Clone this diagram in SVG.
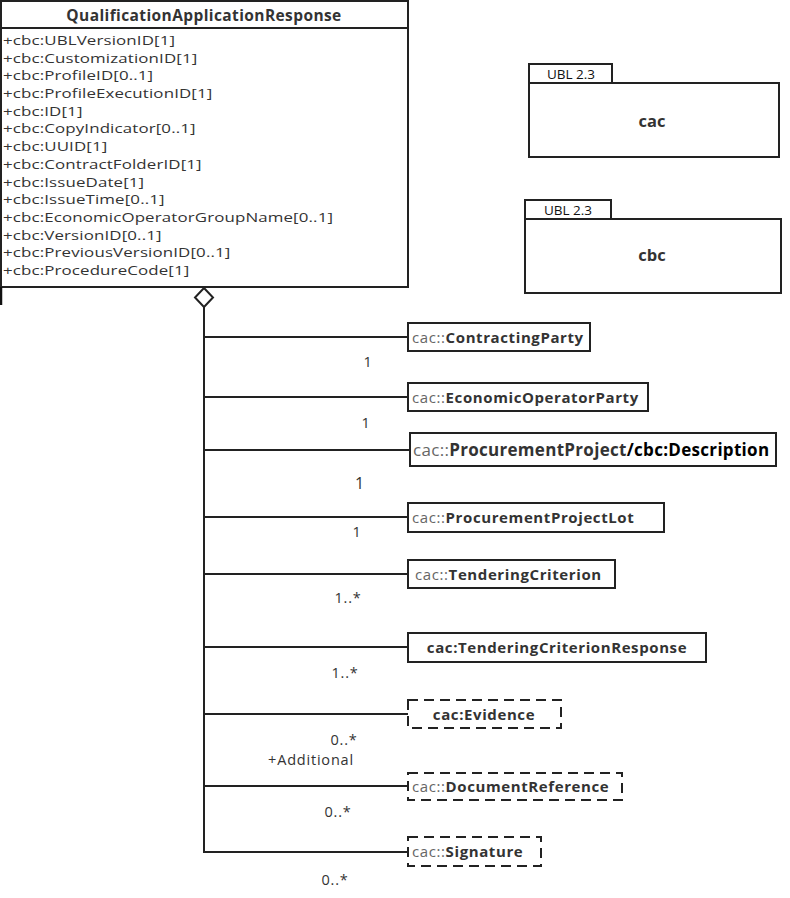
<svg xmlns="http://www.w3.org/2000/svg" width="790" height="898" viewBox="0 0 790 898">
<style>
text{font-family:"Open Sans","Noto Sans","Liberation Sans",sans-serif;fill:#333}
.attr{font-size:13px;letter-spacing:0.1px}
.title{font-size:15.5px;font-weight:bold;letter-spacing:0.4px}
.box{fill:#fff;stroke:#222;stroke-width:2}
.dbox{fill:#fff;stroke:#222;stroke-width:2;stroke-dasharray:10 6}
.lbl{font-size:15px;font-weight:bold;letter-spacing:0.6px}
.big{font-size:17px;letter-spacing:0.3px}
.pre{font-weight:normal;fill:#666}
.mult{font-size:14.5px;fill:#333;letter-spacing:0.8px}
.conn{stroke:#222;stroke-width:2;fill:none}
.tab{font-size:13.5px;fill:#111}
.pkg{font-size:16.5px;font-weight:bold}
</style>
<rect width="790" height="898" fill="#fff"/>
<g id="QualificationApplicationResponse">
<rect class="box" x="1" y="1" width="407" height="286"/>
<line x1="1" y1="28" x2="408" y2="28" stroke="#222" stroke-width="2"/>
<text class="title" x="204" y="21" text-anchor="middle">QualificationApplicationResponse</text>
<g transform="scale(1.3 1)">
<text class="attr" x="2.3" y="45">+cbc:UBLVersionID[1]</text>
<text class="attr" x="2.3" y="62.7">+cbc:CustomizationID[1]</text>
<text class="attr" x="2.3" y="80.4">+cbc:ProfileID[0..1]</text>
<text class="attr" x="2.3" y="98.1">+cbc:ProfileExecutionID[1]</text>
<text class="attr" x="2.3" y="115.8">+cbc:ID[1]</text>
<text class="attr" x="2.3" y="133.5">+cbc:CopyIndicator[0..1]</text>
<text class="attr" x="2.3" y="151.2">+cbc:UUID[1]</text>
<text class="attr" x="2.3" y="168.9">+cbc:ContractFolderID[1]</text>
<text class="attr" x="2.3" y="186.6">+cbc:IssueDate[1]</text>
<text class="attr" x="2.3" y="204.3">+cbc:IssueTime[0..1]</text>
<text class="attr" x="2.3" y="222">+cbc:EconomicOperatorGroupName[0..1]</text>
<text class="attr" x="2.3" y="239.7">+cbc:VersionID[0..1]</text>
<text class="attr" x="2.3" y="257.4">+cbc:PreviousVersionID[0..1]</text>
<text class="attr" x="2.3" y="275.1">+cbc:ProcedureCode[1]</text>
</g>
<line x1="1" y1="287" x2="1" y2="305" stroke="#111" stroke-width="2.5"/>
</g>
<g id="pkg-cac">
<rect class="box" x="529" y="64" width="83" height="19"/>
<rect class="box" x="529" y="83" width="250" height="74"/>
<text class="tab" x="571" y="79" text-anchor="middle">UBL 2.3</text>
<text class="pkg" x="652" y="127" text-anchor="middle">cac</text>
</g>
<g id="pkg-cbc">
<rect class="box" x="525" y="200" width="86" height="19"/>
<rect class="box" x="525" y="219" width="256" height="74"/>
<text class="tab" x="568" y="215" text-anchor="middle">UBL 2.3</text>
<text class="pkg" x="652" y="261" text-anchor="middle">cbc</text>
</g>
<g id="connectors">
<polygon class="conn" points="204,288 213,297.5 204,307 195,297.5" fill="#fff"/>
<polyline class="conn" points="204,307 204,852 408,852"/>
<line class="conn" x1="204" y1="337" x2="408" y2="337"/>
<line class="conn" x1="204" y1="397" x2="408" y2="397"/>
<line class="conn" x1="204" y1="450" x2="410" y2="450"/>
<line class="conn" x1="204" y1="517" x2="408" y2="517"/>
<line class="conn" x1="204" y1="574" x2="408" y2="574"/>
<line class="conn" x1="204" y1="647" x2="408" y2="647"/>
<line class="conn" x1="204" y1="714" x2="408" y2="714"/>
<line class="conn" x1="204" y1="786" x2="408" y2="786"/>
<text class="mult" x="368" y="367" text-anchor="middle">1</text>
<text class="mult" x="366" y="428" text-anchor="middle">1</text>
<text class="mult" x="360" y="489" text-anchor="middle" style="font-size:16px">1</text>
<text class="mult" x="357" y="537" text-anchor="middle">1</text>
<text class="mult" x="348" y="603" text-anchor="middle">1..*</text>
<text class="mult" x="345" y="678" text-anchor="middle">1..*</text>
<text class="mult" x="344" y="745" text-anchor="middle">0..*</text>
<text class="mult" x="311" y="765" text-anchor="middle">+Additional</text>
<text class="mult" x="338" y="817" text-anchor="middle">0..*</text>
<text class="mult" x="335" y="885" text-anchor="middle">0..*</text>
</g>
<g id="ContractingParty">
<rect class="box" x="408" y="323" width="182" height="28"/>
<text class="lbl" x="412" y="342.5"><tspan class="pre">cac::</tspan>ContractingParty</text>
</g>
<g id="EconomicOperatorParty">
<rect class="box" x="408" y="383" width="240" height="28"/>
<text class="lbl" x="412" y="402.5"><tspan class="pre">cac::</tspan>EconomicOperatorParty</text>
</g>
<g id="ProcurementProject">
<rect class="box" x="410" y="433" width="366" height="33"/>
<text class="lbl big" x="413" y="456"><tspan class="pre">cac::</tspan>ProcurementProject<tspan style="fill:#000">/cbc:Description</tspan></text>
</g>
<g id="ProcurementProjectLot">
<rect class="box" x="408" y="503" width="256" height="29"/>
<text class="lbl" x="412" y="522.5"><tspan class="pre">cac::</tspan>ProcurementProjectLot</text>
</g>
<g id="TenderingCriterion">
<rect class="box" x="408" y="560" width="207" height="28"/>
<text class="lbl" x="415" y="579.5"><tspan class="pre">cac::</tspan>TenderingCriterion</text>
</g>
<g id="TenderingCriterionResponse">
<rect class="box" x="408" y="633" width="298" height="29"/>
<text class="lbl" x="557" y="652.5" text-anchor="middle">cac:TenderingCriterionResponse</text>
</g>
<g id="Evidence">
<rect class="dbox" x="408" y="700" width="153" height="28"/>
<text class="lbl" x="484" y="719.5" text-anchor="middle">cac:Evidence</text>
</g>
<g id="DocumentReference">
<rect class="dbox" x="408" y="773" width="214" height="27"/>
<text class="lbl" x="412" y="791.5"><tspan class="pre">cac::</tspan>DocumentReference</text>
</g>
<g id="Signature">
<rect class="dbox" x="408" y="837" width="133" height="29"/>
<text class="lbl" x="412" y="857"><tspan class="pre">cac::</tspan>Signature</text>
</g>
</svg>
